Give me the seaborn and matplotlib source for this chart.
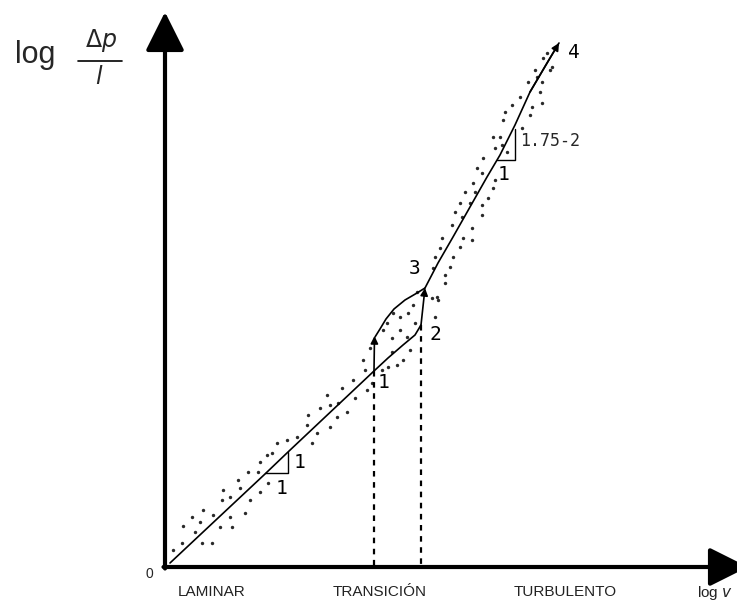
import matplotlib
matplotlib.use('Agg')
import matplotlib.pyplot as plt
from matplotlib.patches import ArrowStyle
import seaborn as sns
import pandas as pd

sns.set_theme(style='white')
plt.rcParams['font.family'] = ['Liberation Sans', 'DejaVu Sans']

# ---- data (log v, log dp/l), arbitrary units ----
laminar_x = [0.5, 10.0, 12.3, 20.9]
laminar_y = [0.4, 9.3, 11.5, 19.6]

lower_x = [20.9, 22.3, 23.8, 25.0, 25.6]
lower_y = [19.6, 20.9, 22.2, 23.2, 24.2]

upper_x = [21.0, 21.5, 22.1, 22.9, 24.0, 25.2, 26.0]
upper_y = [23.0, 23.8, 24.8, 25.8, 26.7, 27.4, 27.9]

turb_x = [26.0, 27.3, 28.8, 30.5, 32.2, 33.5, 35.0, 36.5, 38.2, 39.4]
turb_y = [27.9, 30.4, 33.0, 36.0, 39.0, 41.2, 44.2, 47.5, 50.4, 52.4]

point1 = (20.9, 19.6)
point2 = (25.6, 24.2)
point3 = (26.0, 27.9)
jump1_top = (20.95, 23.1)

tri_low_x = [10.0, 12.3, 12.3]
tri_low_y = [9.4, 9.4, 11.5]
tri_up_x = [33.2, 35.0, 35.0]
tri_up_y = [40.7, 40.7, 43.8]

dots_x = [0.8, 1.8, 1.7, 2.7, 3.0, 3.5, 3.8, 4.7, 3.7, 4.8, 5.5, 5.7, 5.8, 6.5, 6.5,
          6.7, 7.3, 7.5, 8.0, 8.3, 8.5, 9.3, 9.5, 9.5, 10.2, 10.3, 10.7, 11.2, 12.2,
          13.2, 14.2, 14.3, 14.7, 15.2, 15.5, 16.5, 16.5, 17.2, 18.2,
          16.2, 17.7, 17.3, 18.8, 19.0, 19.8, 20.0, 20.2, 20.5, 20.7, 21.7, 21.8,
          22.2, 22.3, 22.7, 22.7, 22.8, 23.2, 23.5, 23.5, 23.8, 24.2, 24.3, 24.5,
          24.8, 25.0, 25.2, 26.7, 27.0, 27.3, 28.0, 28.0,
          27.2, 26.8, 28.5, 27.0, 28.8, 27.5, 27.7, 29.5, 28.7, 29.8, 30.7, 30.7,
          29.0, 29.7, 31.7, 29.5, 30.5, 31.7, 32.3, 30.0, 31.0, 32.8, 30.8, 31.7,
          31.2, 33.0, 31.8, 33.0, 33.7, 34.2,
          32.8, 33.8, 34.0, 34.7, 35.5, 35.7, 36.5, 36.7, 37.7, 37.5, 36.3, 37.2,
          37.7, 37.0, 38.5, 37.8, 38.7, 38.2, 33.5]
dots_y = [1.7, 4.1, 2.4, 5.0, 3.5, 4.5, 5.7, 2.4, 2.4, 5.2, 4.0, 6.7, 7.7, 7.0, 5.0,
          4.0, 8.7, 7.9, 5.4, 9.5, 6.7, 9.5, 10.5, 7.5, 11.2, 8.4, 11.4, 12.4, 12.7,
          13.0, 14.2, 15.2, 12.4, 13.4, 15.9, 16.2, 14.0, 15.0, 15.5,
          17.2, 17.9, 16.4, 18.7, 16.9, 20.7, 19.7, 17.7, 21.9, 18.4, 19.7, 23.7,
          24.4, 20.0, 22.9, 21.5, 25.4, 20.2, 25.0, 23.7, 20.7, 23.0, 25.4, 21.7,
          26.2, 24.4, 27.5, 26.9, 25.0, 26.7, 28.4, 29.2,
          27.0, 29.9, 30.0, 31.0, 31.0, 31.9, 32.9, 32.0, 34.2, 32.9, 32.7, 33.9,
          35.5, 35.0, 35.2, 36.4, 36.4, 36.2, 36.9, 37.5, 37.5, 37.9, 38.4, 39.4,
          39.9, 38.7, 40.9, 41.9, 42.2, 41.5,
          43.0, 44.7, 45.5, 46.2, 47.0, 43.9, 45.2, 46.0, 46.4, 47.5, 48.5, 49.0,
          48.5, 49.7, 49.7, 50.9, 50.0, 51.4, 43.0]

zone_labels = ['LAMINAR', 'TRANSICIÓN', 'TURBULENTO']
zone_x = [4.7, 21.5, 40.0]

# ---- figure ----
fig = plt.figure(figsize=(7.37, 6.10), dpi=100)
ax = fig.add_axes([0, 0, 1, 1])
ax.set_xlim(-16.5, 57.2)
ax.set_ylim(-4.3, 56.7)
ax.axis('off')

dots = pd.DataFrame({'x': dots_x, 'y': dots_y})
sns.scatterplot(data=dots, x='x', y='y', ax=ax, s=6, color='#2a2a2a',
                linewidth=0, legend=False, zorder=2)

line_kw = dict(color='black', linewidth=1.2, sort=False, estimator=None, legend=False)
for xs, ys in [(laminar_x, laminar_y), (lower_x, lower_y), (upper_x, upper_y), (turb_x, turb_y)]:
    sns.lineplot(x=xs, y=ys, ax=ax, **line_kw)

# small arrows: 1 -> jump, 2 -> 3, end of turbulent line (4)
small = dict(arrowstyle='-|>', color='black', lw=1.2, mutation_scale=11, shrinkA=0, shrinkB=0)
ax.annotate('', xy=jump1_top, xytext=point1, arrowprops=small)
ax.annotate('', xy=point3, xytext=point2, arrowprops=small)
ax.annotate('', xy=(turb_x[-1], turb_y[-1]), xytext=(turb_x[-3], turb_y[-3]), arrowprops=small)

# slope triangles
sns.lineplot(x=tri_low_x, y=tri_low_y, ax=ax, color='black', linewidth=1.0, sort=False,
             estimator=None, legend=False)
sns.lineplot(x=tri_up_x, y=tri_up_y, ax=ax, color='black', linewidth=1.0, sort=False,
             estimator=None, legend=False)

# dashed drops to the x axis
for px, py in [point1, point2]:
    ax.plot([px, px], [py, 0], color='black', lw=1.6, linestyle=(0, (2.5, 2.5)))

# coordinate axes with big arrowheads
big = dict(arrowstyle=ArrowStyle('-|>', head_length=1.0, head_width=0.5), color='black',
           lw=3, mutation_scale=24, shrinkA=0, shrinkB=0)
ax.annotate('', xy=(0, 55.5), xytext=(0, -0.15), arrowprops=big, annotation_clip=False)
ax.annotate('', xy=(58.3, 0), xytext=(-0.15, 0), arrowprops=big, annotation_clip=False)

# texts
num = dict(family='DejaVu Sans Mono', fontsize=14, color='black', ha='center', va='center')
ax.text(13.5, 10.4, '1', **num)
ax.text(11.7, 7.9, '1', **num)
ax.text(21.8, 18.5, '1', **num)
ax.text(27.0, 23.2, '2', **num)
ax.text(25.0, 29.9, '3', **num)
ax.text(40.9, 51.4, '4', **num)
ax.text(33.8, 39.3, '1', **num)
ax.text(35.5, 42.65, '1.75-2', family='DejaVu Sans Mono', fontsize=12, ha='left', va='center')
ax.text(-1.2, -0.7, '0', fontsize=10, ha='right', va='center')

for lab, xx in zip(zone_labels, zone_x):
    ax.text(xx, -2.5, lab, fontsize=11, ha='center', va='center', color='#222222')
ax.text(53.2, -2.6, r'log $v$', fontsize=11, ha='left', va='center', color='#222222')

# y label: log  Δp / l
ax.text(-15.0, 50.4, 'log', fontsize=22, ha='left', va='baseline')
ax.text(-6.4, 52.0, r'$\Delta p$', fontsize=17, ha='center', va='baseline')
ax.plot([-8.7, -4.3], [50.6, 50.6], color='black', lw=1.2)
ax.text(-6.6, 50.1, r'$l$', fontsize=17, ha='center', va='top')

fig.savefig('out.png', dpi=100)
